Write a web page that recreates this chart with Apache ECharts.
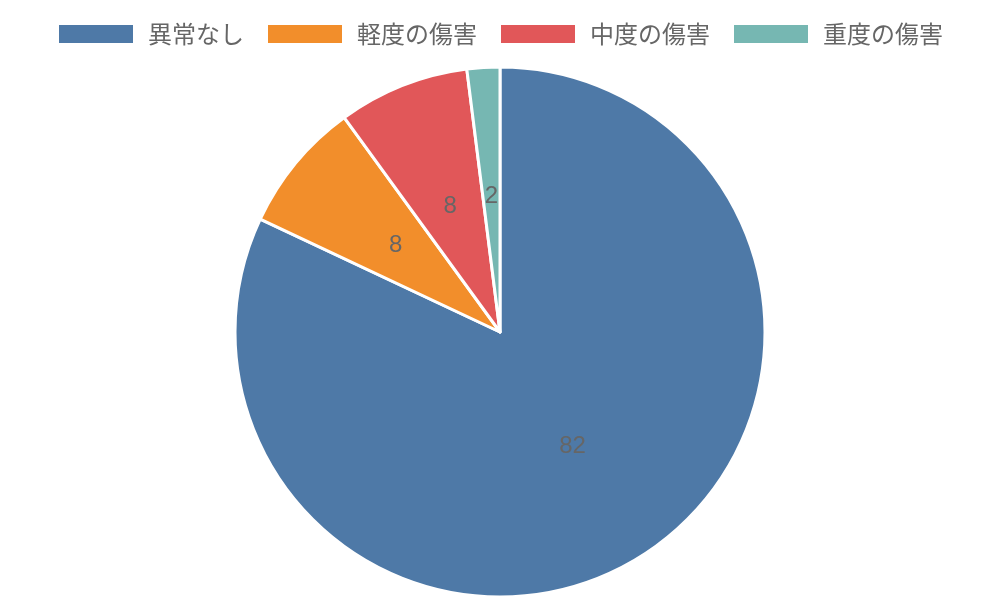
<!DOCTYPE html>
<html><head><meta charset="utf-8">
<script src="https://cdn.jsdelivr.net/npm/echarts@6/dist/echarts.min.js"></script>
<style>html,body{margin:0;padding:0;background:#fff}#c{width:1000px;height:600px}</style>
</head><body><div id="c"></div>
<script>
const categories = ['異常なし', '軽度の傷害', '中度の傷害', '重度の傷害'];
const values = [82, 8, 8, 2];
const colors = ['#4e79a7', '#f28e2b', '#e15759', '#76b7b2'];
const chart = echarts.init(document.getElementById('c'));
chart.setOption({
  animation: false,
  color: colors,
  legend: {
    top: 17, left: 'center', itemWidth: 76, itemHeight: 20, itemGap: 22,
    icon: 'rect',
    textStyle: { fontSize: 24, color: '#666', fontFamily: 'Noto Sans CJK JP', padding: [0, 0, 0, 9] },
    data: categories
  },
  series: [{
    type: 'pie',
    center: [500, 332],
    radius: 265,
    startAngle: 90,
    clockwise: true,
    itemStyle: { borderColor: '#fff', borderWidth: 3 },
    label: { show: true, position: 'inside', color: '#666', fontSize: 24, fontFamily: 'Liberation Sans', formatter: '{c}' },
    labelLine: { show: false },
    data: categories.map((n, i) => ({ name: n, value: values[i] }))
  }]
});
</script></body></html>
